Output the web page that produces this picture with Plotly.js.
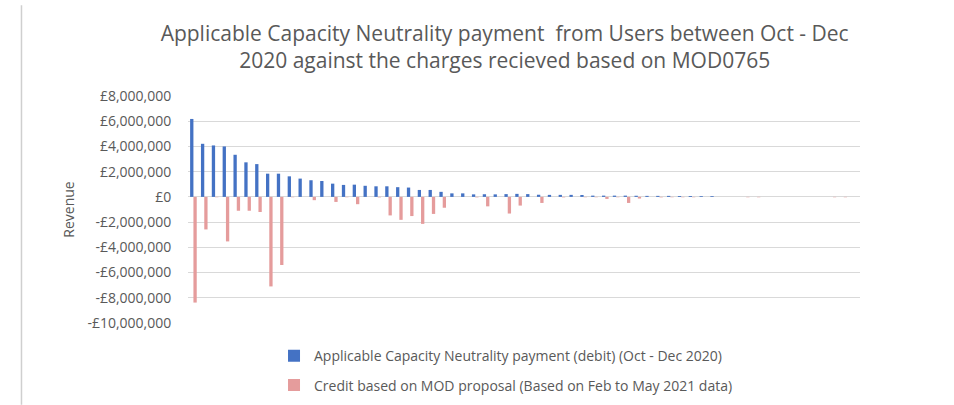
<!DOCTYPE html>
<html>
<head>
<meta charset="utf-8">
<script src="https://cdn.plot.ly/plotly-3.0.1.min.js"></script>
<style>html,body{margin:0;padding:0;background:#fff;}#chart{width:954px;height:405px;}</style>
</head>
<body>
<div id="chart"></div>
<script>
// Category index (users, anonymised)
const categories = Array.from({length: 62}, (_, i) => String(i + 1));

// Applicable Capacity Neutrality payment (debit) (Oct - Dec 2020), £
const debitValues = [
  6180000, 4210000, 4080000, 4000000, 3340000, 2740000, 2600000, 1840000, 1840000, 1630000,
  1450000, 1320000, 1260000, 1050000, 950000, 970000, 880000, 840000, 840000, 770000,
  740000, 550000, 550000, 400000, 280000, 280000, 200000, 210000, 200000, 220000,
  240000, 220000, 170000, 160000, 160000, 160000, 150000, 100000, 100000, 100000,
  100000, 90000, 80000, 80000, 80000, 70000, 70000, 60000, 60000, 0,
  0, 0, 0, 0, 0, 0, 0, 0, 0, 0,
  0, 0
];

// Credit based on MOD proposal (Based on Feb to May 2021 data), £
const creditValues = [
  -8380000, -2580000, -30000, -3530000, -1100000, -1100000, -1200000, -7100000, -5400000, -30000,
  0, -260000, 0, -400000, -30000, -580000, 0, -40000, -1470000, -1820000,
  -1520000, -2140000, -1350000, -860000, 0, 0, -40000, -750000, 0, -1320000,
  -690000, 0, -480000, 0, -40000, 0, -30000, -30000, -160000, -30000,
  -480000, -130000, 0, -40000, -30000, -30000, -30000, 0, 0, 0,
  0, -30000, -30000, 0, 0, 0, 0, 0, 0, -30000,
  -30000, 0
];

const seriesNames = [
  "Applicable Capacity Neutrality payment (debit) (Oct - Dec 2020)",
  "Credit based on MOD proposal (Based on Feb to May 2021 data)"
];

const yTickVals = [8000000, 6000000, 4000000, 2000000, 0, -2000000, -4000000, -6000000, -8000000, -10000000];
const yTickText = ["£8,000,000", "£6,000,000", "£4,000,000", "£2,000,000", "£0",
  "-£2,000,000", "-£4,000,000", "-£6,000,000", "-£8,000,000", "-£10,000,000"];

const titleText = "Applicable Capacity Neutrality payment  from Users between Oct - Dec<br>2020 against the charges recieved based on MOD0765";

const FONT = "Open Sans, sans-serif";
const GREY = "#595959";

const traces = [
  {type: "bar", x: categories, y: debitValues, name: seriesNames[0],
   marker: {color: "#4472c4"}, legendgroup: "a"},
  {type: "bar", x: categories, y: creditValues, name: seriesNames[1],
   marker: {color: "#e59c9c"}, legendgroup: "b"}
];

const layout = {
  width: 954, height: 405,
  margin: {l: 188, r: 94, t: 96, b: 82, autoexpand: false},
  paper_bgcolor: "#fff", plot_bgcolor: "#fff",
  font: {family: FONT, color: GREY, size: 13},
  title: {text: titleText, font: {family: FONT, size: 21, color: GREY},
          xref: "container", x: 0.529, xanchor: "center",
          yref: "container", y: 0.90, yanchor: "middle"},
  barmode: "group", bargap: 0.39, bargroupgap: 0,
  xaxis: {type: "category", showticklabels: false, showgrid: false, zeroline: false,
          showline: false, ticks: "", fixedrange: true},
  yaxis: {range: [-10000000, 8000000], tickvals: yTickVals, ticktext: yTickText,
          showgrid: true, gridcolor: "#d9d9d9", gridwidth: 1,
          zeroline: true, zerolinecolor: "#d9d9d9", zerolinewidth: 1,
          ticks: "outside", ticklen: 13, tickcolor: "rgba(0,0,0,0)",
          tickfont: {family: FONT, size: 14, color: GREY},
          title: {text: "Revenue", font: {family: FONT, size: 14, color: GREY}, standoff: 9}},
  showlegend: true,
  legend: {orientation: "v", x: 0.128, xanchor: "left",
           y: -0.076, yanchor: "top",
           font: {family: FONT, size: 14, color: GREY}, traceorder: "grouped",
           tracegroupgap: 8, bgcolor: "rgba(0,0,0,0)"},
  shapes: [{type: "line", xref: "paper", yref: "paper", x0: -0.2478, x1: -0.2478, y0: -0.36, y1: 1.40,
            line: {color: "#cfcfcf", width: 1.5}, layer: "above"}]
};

Plotly.newPlot("chart", traces, layout, {displayModeBar: false, staticPlot: true});
</script>
</body>
</html>
